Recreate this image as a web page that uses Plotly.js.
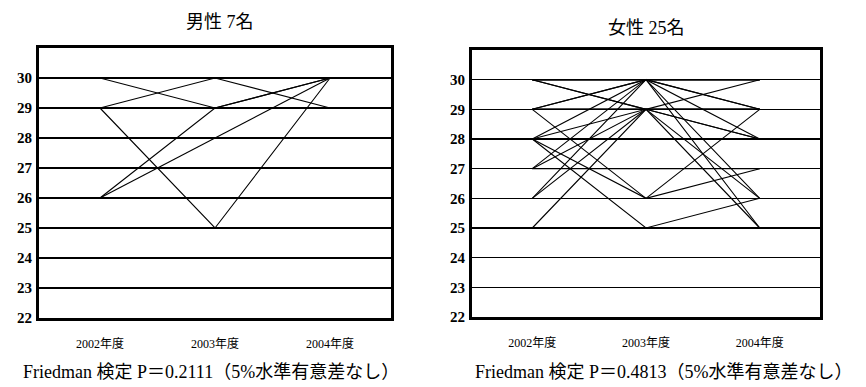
<!DOCTYPE html>
<html>
<head>
<meta charset="utf-8">
<script src="https://cdn.plot.ly/plotly-3.0.1.min.js"></script>
<style>
  html, body { margin: 0; padding: 0; background: #fff; }
  #chart { width: 866px; height: 387px; }
</style>
</head>
<body>
<div id="chart"></div>
<script>
// Survey years (x categories) and y-axis ticks
const years = ['2002年度', '2003年度', '2004年度'];
const yTicks = [22, 23, 24, 25, 26, 27, 28, 29, 30];

// Men (7): score per person for each year
const male2002 = [30, 29, 29, 26, 26, 30, 30];
const male2003 = [29, 30, 25, 29, 28, 30, 30];
const male2004 = [30, 29, 30, 30, 30, 30, 30];

// Women (25): score per person for each year
const female2002 = [29, 28, 28, 29, 28, 27, 26, 30, 28, 27, 26, 25, 30, 30, 30, 30, 29, 29, 29, 30, 29, 30, 28, 27, 29];
const female2003 = [26, 26, 25, 30, 30, 30, 30, 29, 29, 29, 29, 29, 30, 30, 30, 30, 29, 29, 29, 30, 30, 29, 28, 27, 29];
const female2004 = [29, 27, 26, 29, 28, 26, 25, 30, 28, 26, 25, 29, 30, 30, 30, 30, 29, 29, 29, 29, 30, 29, 28, 27, 28];

// Panel titles and test notes
const maleTitle = '男性 7名';
const femaleTitle = '女性 25名';
const maleNote = 'Friedman 検定 P＝0.2111（5%水準有意差なし）';
const femaleNote = 'Friedman 検定 P＝0.4813（5%水準有意差なし）';

const serif = '"Liberation Serif", "DejaVu Serif", "Noto Sans CJK JP", serif';

// One line trace per person, joining that person's three yearly scores
function personTraces(a, b, c, xa, ya) {
  return a.map((v, i) => ({
    type: 'scatter',
    mode: 'lines',
    x: [0, 1, 2],
    y: [v, b[i], c[i]],
    xaxis: xa,
    yaxis: ya,
    line: { color: '#000', width: 1.1 },
    hoverinfo: 'skip',
    showlegend: false
  }));
}

const traces = [
  ...personTraces(male2002, male2003, male2004, 'x', 'y'),
  ...personTraces(female2002, female2003, female2004, 'x2', 'y2')
];

function xAxis(domain, anchor) {
  return {
    domain: domain,
    anchor: anchor,
    range: [-0.53, 2.53],
    tickvals: [0, 1, 2],
    ticktext: years,
    ticks: '',
    ticklabelstandoff: 13,
    tickfont: { family: serif, size: 12, color: '#000' },
    showgrid: false,
    zeroline: false,
    showline: true,
    linecolor: '#000',
    linewidth: 3,
    mirror: true,
    fixedrange: true
  };
}

function yAxis(domain, anchor) {
  return {
    domain: domain,
    anchor: anchor,
    range: [22, 31],
    tickvals: yTicks,
    ticks: '',
    ticklabelstandoff: 1,
    tickfont: { family: serif, size: 15, color: '#000', weight: 'bold' },
    showgrid: true,
    gridcolor: '#000',
    gridwidth: 1.5,
    zeroline: false,
    showline: true,
    linecolor: '#000',
    linewidth: 3,
    mirror: true,
    fixedrange: true
  };
}

const layout = {
  width: 866,
  height: 387,
  margin: { l: 0, r: 0, t: 0, b: 0 },
  paper_bgcolor: '#fff',
  plot_bgcolor: '#fff',
  showlegend: false,
  xaxis: xAxis([39 / 866, 391 / 866], 'y'),
  yaxis: yAxis([69 / 387, 339 / 387], 'x'),
  xaxis2: xAxis([472 / 866, 820 / 866], 'y2'),
  yaxis2: yAxis([70 / 387, 337 / 387], 'x2'),
  annotations: [
    { text: maleTitle, xref: 'paper', yref: 'paper', x: 220 / 866, y: 1 - 22 / 387,
      showarrow: false, xanchor: 'center', yanchor: 'middle',
      font: { family: serif, size: 18, color: '#000' } },
    { text: femaleTitle, xref: 'paper', yref: 'paper', x: 646 / 866, y: 1 - 28 / 387,
      showarrow: false, xanchor: 'center', yanchor: 'middle',
      font: { family: serif, size: 18, color: '#000' } },
    { text: maleNote, xref: 'paper', yref: 'paper', x: 211 / 866, y: 1 - 372 / 387,
      showarrow: false, xanchor: 'center', yanchor: 'middle',
      font: { family: serif, size: 18, color: '#000' } },
    { text: femaleNote, xref: 'paper', yref: 'paper', x: 664 / 866, y: 1 - 372 / 387,
      showarrow: false, xanchor: 'center', yanchor: 'middle',
      font: { family: serif, size: 18, color: '#000' } }
  ]
};

Plotly.newPlot('chart', traces, layout, { staticPlot: true, displayModeBar: false });
</script>
</body>
</html>
